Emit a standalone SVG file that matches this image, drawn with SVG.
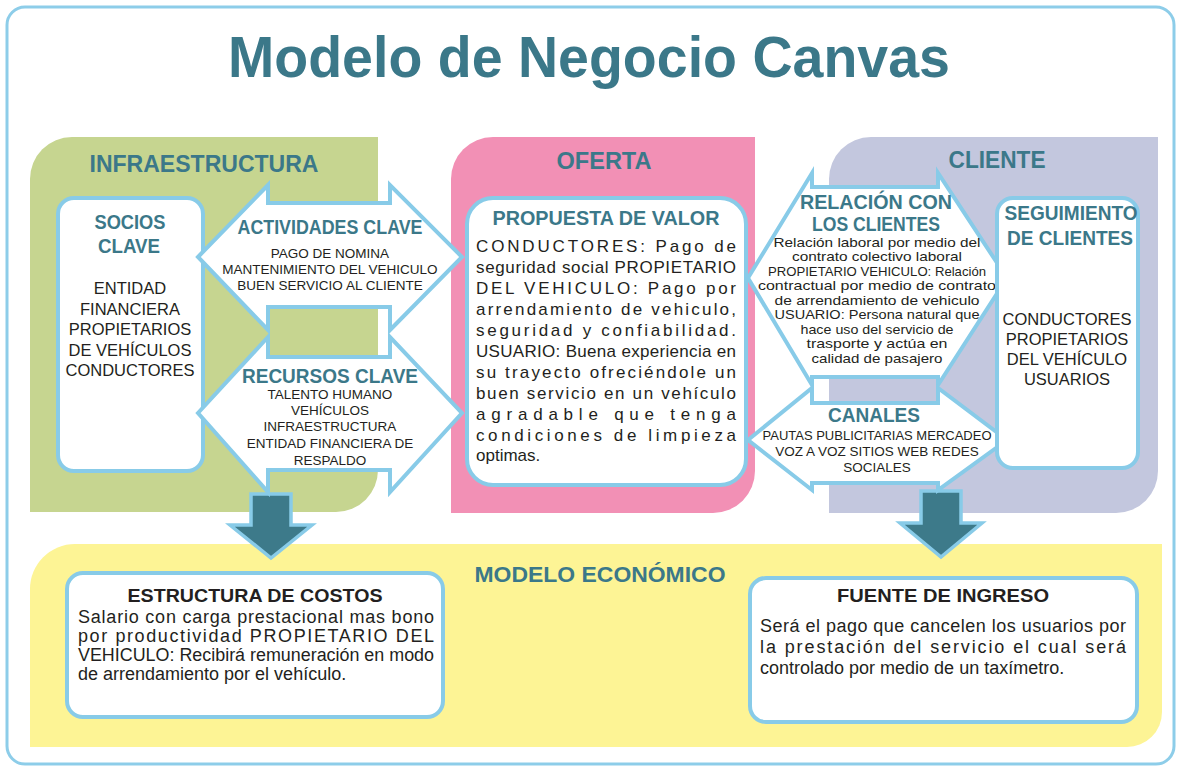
<svg xmlns="http://www.w3.org/2000/svg" width="1178" height="767" viewBox="0 0 1178 767">
<style>
text{font-family:"Liberation Sans",Arial,sans-serif}
.h{font-weight:bold;fill:#3b7889;text-anchor:middle}
.hd{font-weight:bold;fill:#231f20;text-anchor:middle}
.t{fill:#231f20}
.c{text-anchor:middle}
.box{fill:#fff;stroke:#88cbe8;stroke-width:4}
.arr{fill:#fff;stroke:#88cbe8;stroke-width:4;stroke-linejoin:miter}
.down{fill:#3d7a8a;stroke:#88cbe8;stroke-width:3.5;stroke-linejoin:miter}
</style>
<rect x="0" y="0" width="1178" height="767" fill="#fff"/>
<rect x="7" y="7" width="1167" height="757" rx="18" fill="#fff" stroke="#8dcde9" stroke-width="3"/>
<text x="589" y="77" class="h" font-size="58" textLength="722" lengthAdjust="spacingAndGlyphs">Modelo de Negocio Canvas</text>

<g id="region-infraestructura">
<path d="M30,512 V179 A42,42 0 0 1 72,137 H378 V470 A42,42 0 0 1 336,512 Z" fill="#c6d590"/>
<text x="204" y="172" class="h" font-size="23" textLength="229" lengthAdjust="spacingAndGlyphs">INFRAESTRUCTURA</text>
</g>
<g id="region-oferta">
<path d="M451,513 V179 A42,42 0 0 1 493,137 H755 V471 A42,42 0 0 1 713,513 Z" fill="#f290b5"/>
<text x="604" y="169" class="h" font-size="23" textLength="95" lengthAdjust="spacingAndGlyphs">OFERTA</text>
</g>
<g id="region-cliente">
<path d="M829,513 V179 A42,42 0 0 1 871,137 H1158 V471 A42,42 0 0 1 1116,513 Z" fill="#c3c7de"/>
<text x="997" y="168" class="h" font-size="23" textLength="97" lengthAdjust="spacingAndGlyphs">CLIENTE</text>
</g>
<g id="region-modelo-economico">
<path d="M30,747 V589 A45,45 0 0 1 75,544 H1162 V712 A35,35 0 0 1 1127,747 Z" fill="#fdf495"/>
<text x="600" y="582" class="h" font-size="22" textLength="251" lengthAdjust="spacingAndGlyphs">MODELO ECONÓMICO</text>
</g>

<g id="connectors">
<path class="down" d="M251,494 H291 V525 H312 L271,558 L230,525 H251 Z"/>
<path class="down" d="M921,491 H961 V523 H982 L941,557 L900,523 H921 Z"/>
</g>

<g id="socios-clave">
<rect class="box" x="58" y="198" width="145" height="273" rx="16"/>
<text x="130" y="229" class="h" font-size="21" textLength="71" lengthAdjust="spacingAndGlyphs">SOCIOS</text>
<text x="129" y="253" class="h" font-size="21" textLength="62" lengthAdjust="spacingAndGlyphs">CLAVE</text>
<g class="t c" font-size="16.5">
<text x="130" y="294">ENTIDAD</text>
<text x="130" y="315">FINANCIERA</text>
<text x="130" y="335">PROPIETARIOS</text>
<text x="130" y="356">DE VEHÍCULOS</text>
<text x="130" y="376">CONDUCTORES</text>
</g>
</g>

<g id="actividades-clave">
<path class="arr" d="M198,257 L268,185 L268,203 L390,203 L390,185 L462,257 L390,330 L390,307 L268,307 L268,330 Z"/>
<text x="330" y="234" class="h" font-size="20" textLength="185" lengthAdjust="spacingAndGlyphs">ACTIVIDADES CLAVE</text>
<g class="t c" font-size="13.5">
<text x="330" y="258">PAGO DE NOMINA</text>
<text x="330" y="274">MANTENIMIENTO DEL VEHICULO</text>
<text x="330" y="290">BUEN SERVICIO AL CLIENTE</text>
</g>
</g>

<g id="recursos-clave">
<path class="arr" d="M198,413 L268,337 L268,357 L390,357 L390,337 L462,413 L390,492 L390,470 L268,470 L268,492 Z"/>
<text x="330" y="383" class="h" font-size="20" textLength="176" lengthAdjust="spacingAndGlyphs">RECURSOS CLAVE</text>
<g class="t c" font-size="13.5">
<text x="330" y="399">TALENTO HUMANO</text>
<text x="330" y="415">VEHÍCULOS</text>
<text x="330" y="431">INFRAESTRUCTURA</text>
<text x="330" y="448">ENTIDAD FINANCIERA DE</text>
<text x="330" y="465">RESPALDO</text>
</g>
</g>

<g id="propuesta-de-valor">
<rect class="box" x="467" y="198" width="279" height="287" rx="26"/>
<text x="606" y="225" class="h" font-size="21" textLength="227" lengthAdjust="spacingAndGlyphs">PROPUESTA DE VALOR</text>
<g class="t" font-size="17">
<text x="476" y="252" textLength="260" lengthAdjust="spacing">CONDUCTORES: Pago de</text>
<text x="476" y="273" textLength="260" lengthAdjust="spacing">seguridad social PROPIETARIO</text>
<text x="476" y="294" textLength="260" lengthAdjust="spacing">DEL VEHICULO: Pago por</text>
<text x="476" y="315" textLength="260" lengthAdjust="spacing">arrendamiento de vehiculo,</text>
<text x="476" y="336" textLength="260" lengthAdjust="spacing">seguridad y confiabilidad.</text>
<text x="476" y="357" textLength="260" lengthAdjust="spacing">USUARIO: Buena experiencia en</text>
<text x="476" y="378" textLength="260" lengthAdjust="spacing">su trayecto ofreciéndole un</text>
<text x="476" y="399" textLength="260" lengthAdjust="spacing">buen servicio en un vehículo</text>
<text x="476" y="420" textLength="260" lengthAdjust="spacing">agradable que tenga</text>
<text x="476" y="441" textLength="260" lengthAdjust="spacing">condiciones de limpieza</text>
<text x="476" y="461">optimas.</text>
</g>
</g>

<g id="relacion-clientes">
<path class="arr" d="M748,278 L812,173 L812,187 L938,187 L938,173 L1007,278 L938,385 L938,377 L812,377 L812,385 Z"/>
<text x="876" y="209" class="h" font-size="19.5" textLength="152" lengthAdjust="spacingAndGlyphs">RELACIÓN CON</text>
<text x="876" y="230.5" class="h" font-size="19.5" textLength="128" lengthAdjust="spacingAndGlyphs">LOS CLIENTES</text>
<g class="t c" font-size="13.5">
<text x="877" y="246.5" textLength="207" lengthAdjust="spacingAndGlyphs">Relación laboral por medio del</text>
<text x="877" y="261" textLength="170" lengthAdjust="spacingAndGlyphs">contrato colectivo laboral</text>
<text x="877" y="275.5" textLength="218" lengthAdjust="spacingAndGlyphs">PROPIETARIO VEHICULO: Relación</text>
<text x="877" y="290" textLength="238" lengthAdjust="spacingAndGlyphs">contractual por medio de contrato</text>
<text x="877" y="304.5" textLength="205" lengthAdjust="spacingAndGlyphs">de arrendamiento de vehiculo</text>
<text x="877" y="319" textLength="205" lengthAdjust="spacingAndGlyphs">USUARIO: Persona natural que</text>
<text x="877" y="333.5" textLength="153" lengthAdjust="spacingAndGlyphs">hace uso del servicio de</text>
<text x="877" y="348" textLength="141" lengthAdjust="spacingAndGlyphs">trasporte y actúa en</text>
<text x="877" y="362.5" textLength="131" lengthAdjust="spacingAndGlyphs">calidad de pasajero</text>
</g>
</g>

<g id="canales">
<path class="arr" d="M748,440 L812,388 L812,403 L938,403 L938,388 L1007,440 L938,490 L938,483 L812,483 L812,490 Z"/>
<text x="874" y="422" class="h" font-size="21" textLength="92" lengthAdjust="spacingAndGlyphs">CANALES</text>
<g class="t c" font-size="13.5">
<text x="877" y="440" textLength="229" lengthAdjust="spacingAndGlyphs">PAUTAS PUBLICITARIAS MERCADEO</text>
<text x="877" y="456">VOZ A VOZ SITIOS WEB REDES</text>
<text x="877" y="472">SOCIALES</text>
</g>
</g>

<g id="seguimiento-clientes">
<rect class="box" x="997" y="198" width="141" height="270" rx="16"/>
<text x="1071" y="220" class="h" font-size="21" textLength="133" lengthAdjust="spacingAndGlyphs">SEGUIMIENTO</text>
<text x="1070" y="245" class="h" font-size="21" textLength="126" lengthAdjust="spacingAndGlyphs">DE CLIENTES</text>
<g class="t c" font-size="16.5">
<text x="1067" y="325">CONDUCTORES</text>
<text x="1067" y="345">PROPIETARIOS</text>
<text x="1067" y="365">DEL VEHÍCULO</text>
<text x="1067" y="385">USUARIOS</text>
</g>
</g>

<g id="estructura-costos">
<rect class="box" x="67" y="573" width="376" height="144" rx="16"/>
<text x="255" y="602" class="hd" font-size="19" textLength="255" lengthAdjust="spacingAndGlyphs">ESTRUCTURA DE COSTOS</text>
<g class="t" font-size="18">
<text x="78" y="623" textLength="356" lengthAdjust="spacing">Salario con carga prestacional mas bono</text>
<text x="78" y="642" textLength="356" lengthAdjust="spacing">por productividad PROPIETARIO DEL</text>
<text x="78" y="661" textLength="356" lengthAdjust="spacingAndGlyphs">VEHICULO: Recibirá remuneración en modo</text>
<text x="78" y="680">de arrendamiento por el vehículo.</text>
</g>
</g>

<g id="fuente-ingreso">
<rect class="box" x="750" y="578" width="387" height="144" rx="16"/>
<text x="943" y="602" class="hd" font-size="19" textLength="212" lengthAdjust="spacingAndGlyphs">FUENTE DE INGRESO</text>
<g class="t" font-size="18">
<text x="760" y="632" textLength="366" lengthAdjust="spacing">Será el pago que cancelen los usuarios por</text>
<text x="760" y="653" textLength="366" lengthAdjust="spacing">la prestación del servicio el cual será</text>
<text x="760" y="674">controlado por medio de un taxímetro.</text>
</g>
</g>
</svg>
